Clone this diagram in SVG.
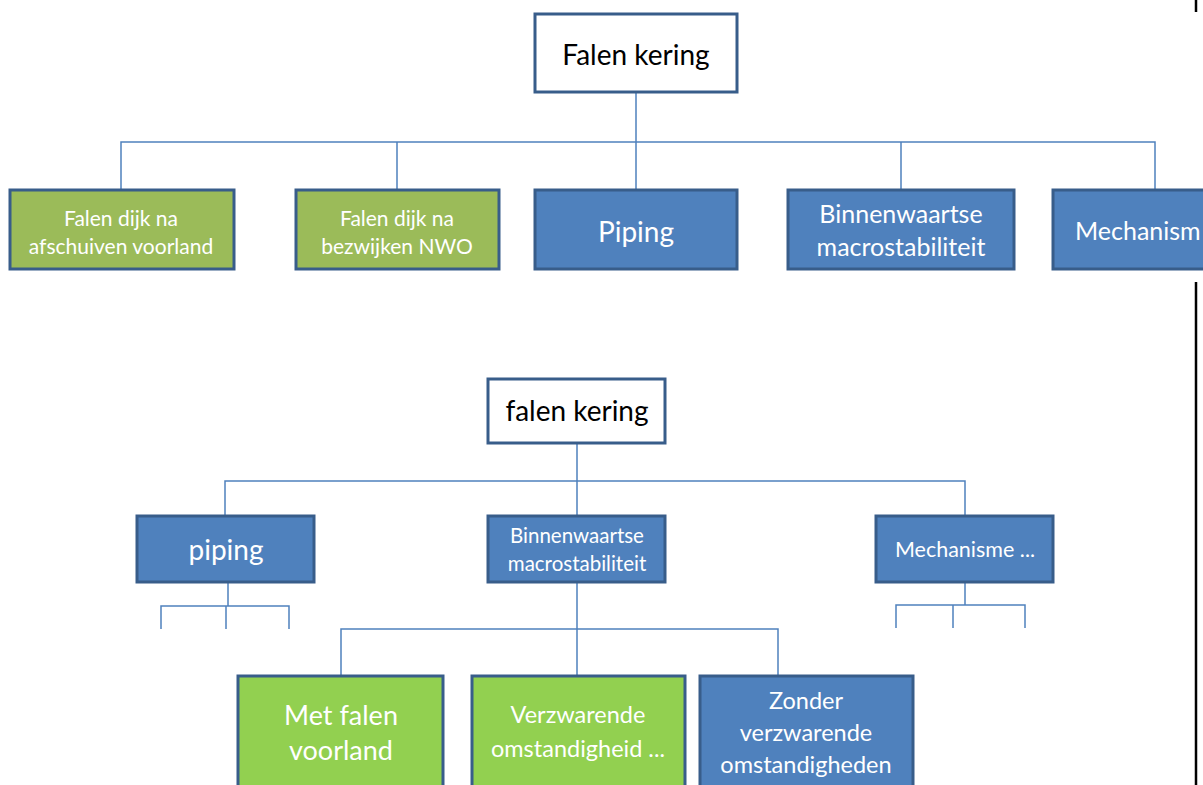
<svg xmlns="http://www.w3.org/2000/svg" width="1203" height="785" viewBox="0 0 1203 785">
<style>
.box{stroke:#385D8A;stroke-width:3}
.w{fill:#ffffff}
.b{fill:#4F81BD}
.g1{fill:#9BBB59}
.g2{fill:#92D050}
.t{font-family:Lato,"Open Sans","Liberation Sans",sans-serif;text-anchor:middle;dominant-baseline:central}
.dk{fill:#000000}
.lt{fill:#ffffff}
.c{fill:none;stroke:#4F81BD;stroke-width:1.5}
.edge{stroke:#000;stroke-width:2.5}
</style>
<rect width="1203" height="785" fill="#ffffff"/>
<g id="connectors">
<path class="c" d="M636 92V190M121 190V142H1155V190M397 142V190M901 142V190"/>
<path class="c" d="M577 443V516M225 516V481H965V516"/>
<path class="c" d="M228 582V606M161 629V606H289V629M226 606V629"/>
<path class="c" d="M965 582V605M896 628V605H1025V628M953 605V628"/>
<path class="c" d="M577 582V676M341 676V629H778V676"/>
</g>
<g id="n-falen-kering-top"><rect class="box w" x="535" y="14" width="202" height="78"/><text class="t dk" x="636" y="54" font-size="28">Falen kering</text></g>
<g id="n-afschuiven"><rect class="box g1" x="10" y="190" width="224" height="79"/><text class="t lt" font-size="21"><tspan x="121" y="217">Falen dijk na</tspan><tspan x="121" y="245">afschuiven voorland</tspan></text></g>
<g id="n-nwo"><rect class="box g1" x="296" y="190" width="203" height="79"/><text class="t lt" font-size="21"><tspan x="397" y="217">Falen dijk na</tspan><tspan x="397" y="245">bezwijken NWO</tspan></text></g>
<g id="n-piping-top"><rect class="box b" x="535" y="190" width="202" height="79"/><text class="t lt" x="636" y="231" font-size="28">Piping</text></g>
<g id="n-binnen-top"><rect class="box b" x="788" y="190" width="226" height="79"/><text class="t lt" font-size="25"><tspan x="901" y="213">Binnenwaartse</tspan><tspan x="901" y="246">macrostabiliteit</tspan></text></g>
<g id="n-mech-top"><rect class="box b" x="1053" y="190" width="204" height="79"/><text class="t lt" x="1075" y="230" font-size="25" style="text-anchor:start">Mechanism</text></g>
<g id="n-falen-kering-bottom"><rect class="box w" x="488" y="379" width="177" height="64"/><text class="t dk" x="577" y="410" font-size="28">falen kering</text></g>
<g id="n-piping-bottom"><rect class="box b" x="137" y="516" width="177" height="66"/><text class="t lt" x="226" y="549" font-size="28">piping</text></g>
<g id="n-binnen-bottom"><rect class="box b" x="488" y="516" width="177" height="66"/><text class="t lt" font-size="20.5"><tspan x="577" y="535">Binnenwaartse</tspan><tspan x="577" y="563">macrostabiliteit</tspan></text></g>
<g id="n-mech-bottom"><rect class="box b" x="876" y="516" width="177" height="66"/><text class="t lt" x="965" y="549" font-size="21.5">Mechanisme ...</text></g>
<g id="n-met-falen"><rect class="box g2" x="238" y="676" width="205" height="120"/><text class="t lt" font-size="27"><tspan x="341" y="714">Met falen</tspan><tspan x="341" y="749">voorland</tspan></text></g>
<g id="n-verzwarende"><rect class="box g2" x="472" y="676" width="213" height="120"/><text class="t lt" font-size="23.5"><tspan x="578" y="714">Verzwarende</tspan><tspan x="578" y="748">omstandigheid ...</tspan></text></g>
<g id="n-zonder"><rect class="box b" x="700" y="676" width="213" height="120"/><text class="t lt" font-size="23.5"><tspan x="806" y="700">Zonder</tspan><tspan x="806" y="732">verzwarende</tspan><tspan x="806" y="764">omstandigheden</tspan></text></g>
<line class="edge" x1="1196" y1="0" x2="1196" y2="12"/>
<line class="edge" x1="1196" y1="282" x2="1196" y2="785"/>
</svg>
